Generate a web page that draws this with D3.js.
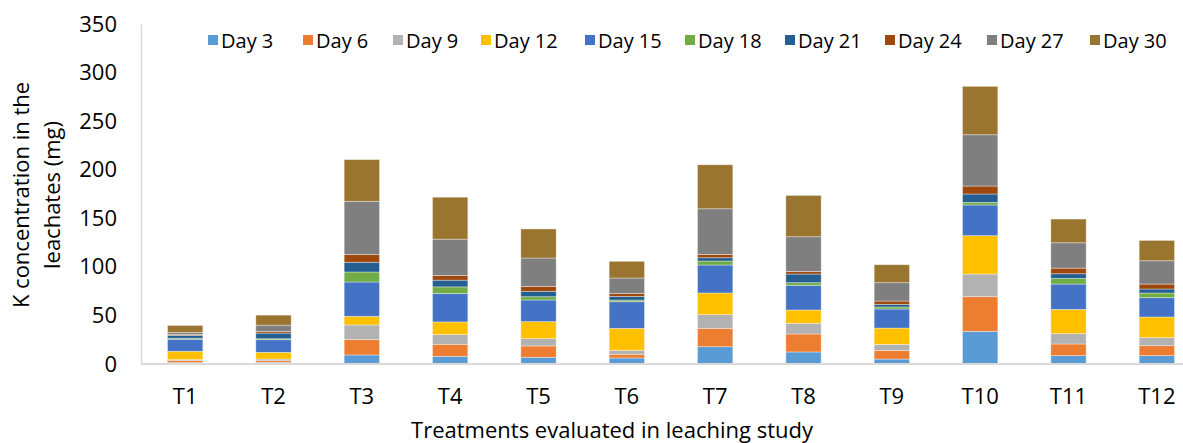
<!DOCTYPE html>
<html><head><meta charset="utf-8">
<script src="https://cdn.jsdelivr.net/npm/d3@7"></script>
<style>
body{margin:0;background:#fff;}
text{font-family:"Open Sans",sans-serif;fill:#000;}
</style></head>
<body><svg id="c" width="1183" height="443"></svg>
<script>
const categories = ["T1","T2","T3","T4","T5","T6","T7","T8","T9","T10","T11","T12"];
const seriesNames = ["Day 3","Day 6","Day 9","Day 12","Day 15","Day 18","Day 21","Day 24","Day 27","Day 30"];
const day3  = [1.5, 1.7, 9.3, 7.9, 6.9, 6.2, 17.8, 12.4, 5.1, 33.6, 8.6, 8.6];
const day6  = [2.0, 1.7, 15.8, 12.4, 11.7, 3.8, 18.9, 18.5, 8.9, 35.7, 12.0, 10.3];
const day9  = [1.0, 1.7, 15.1, 10.0, 7.5, 4.1, 14.1, 11.0, 6.2, 23.3, 10.6, 8.2];
const day12 = [8.6, 6.9, 8.9, 13.0, 17.5, 22.6, 22.3, 13.7, 16.8, 39.5, 25.0, 21.3];
const day15 = [12.4, 13.0, 35.3, 29.2, 22.3, 27.4, 28.8, 25.4, 19.6, 31.6, 26.1, 19.9];
const day18 = [1.0, 1.0, 10.3, 6.9, 3.4, 1.7, 4.1, 2.7, 2.1, 2.7, 5.8, 4.8];
const day21 = [3.0, 5.8, 10.0, 6.9, 5.5, 3.8, 3.4, 8.9, 2.7, 8.6, 4.8, 4.1];
const day24 = [1.0, 1.7, 7.9, 4.8, 5.1, 3.1, 3.4, 2.7, 3.4, 8.2, 5.8, 5.1];
const day27 = [2.0, 6.5, 54.9, 37.4, 29.2, 15.8, 47.0, 35.7, 18.9, 52.8, 26.1, 24.0];
const day30 = [7.2, 10.3, 42.9, 43.2, 29.9, 17.2, 45.3, 42.5, 18.5, 49.8, 24.4, 20.9];
const yTicks = [0,50,100,150,200,250,300,350];
const colors = ["#5b9bd5","#ed7d31","#b2b2b2","#ffc000","#4472c4","#70ad47","#255e91","#9e480e","#7f7f7f","#997530"];
const seriesVals = [day3,day6,day9,day12,day15,day18,day21,day24,day27,day30];

const rows = categories.map((c,i)=>{const o={cat:c}; seriesNames.forEach((s,j)=>o[s]=seriesVals[j][i]); return o;});
const stack = d3.stack().keys(seriesNames)(rows);

const svg = d3.select("#c");
const x = d3.scaleBand().domain(categories).range([141,1201]).paddingInner(0.6).paddingOuter(0.3);
const y = d3.scaleLinear().domain([0,350]).range([364,24]);

// bars
svg.append("g").selectAll("g").data(stack).join("g")
  .attr("fill",(d,i)=>colors[i])
  .selectAll("rect").data(d=>d).join("rect")
  .attr("x",d=>x(d.data.cat)).attr("width",x.bandwidth())
  .attr("y",d=>y(d[1])).attr("height",d=>y(d[0])-y(d[1]))
  .attr("stroke","rgba(255,255,255,0.45)").attr("stroke-width",0.8);

// axes
const yAxis = svg.append("g").attr("transform","translate(141,0)")
  .call(d3.axisLeft(y).tickValues(yTicks).tickSize(0).tickPadding(24));
yAxis.select(".domain").attr("stroke","#d9d9d9").attr("stroke-width",1.5);
yAxis.selectAll("text").attr("font-size",22).attr("font-family","Open Sans");

const xAxis = svg.append("g").attr("transform","translate(0,364)")
  .call(d3.axisBottom(x).tickSize(0).tickPadding(24));
xAxis.select(".domain").attr("stroke","#d9d9d9").attr("stroke-width",2).attr("d","M141,0H1183");
xAxis.selectAll("text").attr("font-size",22).attr("font-family","Open Sans");

// axis titles
svg.append("text").attr("transform","translate(612,438)").attr("text-anchor","middle")
  .attr("font-size",22).text("Treatments evaluated in leaching study");
const yt = svg.append("text").attr("transform","translate(0,195) rotate(-90)").attr("text-anchor","middle").attr("font-size",22);
yt.append("tspan").attr("x",0).attr("y",29).text("K concentration in the");
yt.append("tspan").attr("x",0).attr("y",60).text("leachates (mg)");

// legend
const legX = [208,303,393,481,585,685,785,885,987,1090];
const leg = svg.append("g").selectAll("g").data(seriesNames).join("g")
  .attr("transform",(d,i)=>`translate(${legX[i]},40)`);
leg.append("rect").attr("x",0).attr("y",-5).attr("width",10).attr("height",10).attr("fill",(d,i)=>colors[i]);
leg.append("text").attr("x",13).attr("y",7.5).attr("font-size",20).text(d=>d);
</script></body></html>
